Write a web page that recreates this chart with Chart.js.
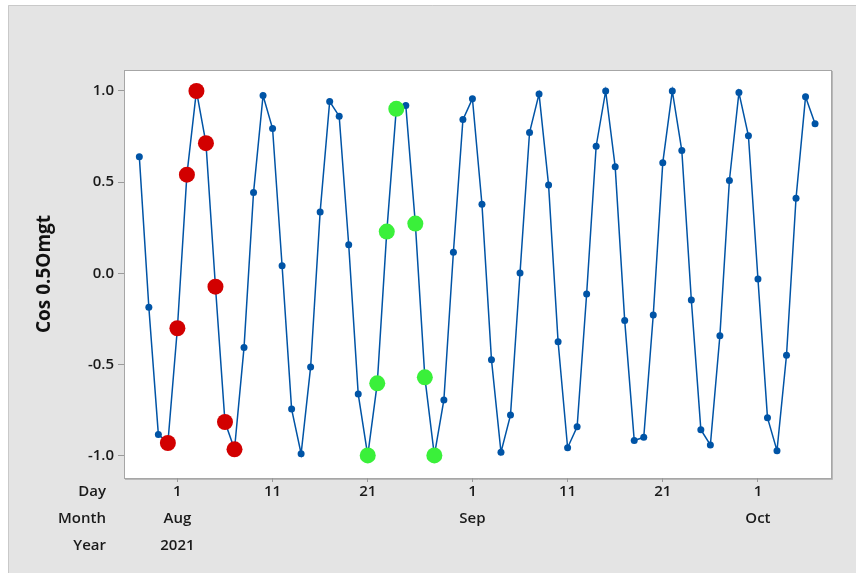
<!DOCTYPE html>
<html>
<head>
<meta charset="utf-8">
<script src="https://cdn.jsdelivr.net/npm/chart.js@4.4.1/dist/chart.umd.min.js"></script>
<style>
  html, body { margin: 0; padding: 0; background: #fff; }
  #wrap { width: 856px; height: 573px; }
</style>
</head>
<body>
<div id="wrap"><canvas id="chart" width="856" height="573"></canvas></div>
<script>
// daily observations, 2021-07-28 .. 2021-10-07 (index 0 = Jul 28)
const cosValues = [
  0.640, -0.186, -0.883, -0.930, -0.301, 0.541, 1.000, 0.714, -0.073, -0.815,
  -0.965, -0.407, 0.443, 0.975, 0.794, 0.042, -0.744, -0.989, -0.513, 0.337,
  0.942, 0.862, 0.157, -0.662, -0.998, -0.603, 0.229, 0.902, 0.920, 0.273,
  -0.570, -0.998, -0.694, 0.116, 0.843, 0.958, 0.379, -0.473, -0.981, -0.777,
  0.002, 0.772, 0.984, 0.485, -0.375, -0.956, -0.841, -0.113, 0.697, 1.000,
  0.584, -0.259, -0.916, -0.899, -0.228, 0.607, 1.000, 0.673, -0.146, -0.857,
  -0.941, -0.342, 0.509, 0.991, 0.754, -0.031, -0.791, -0.972, -0.449, 0.412,
  0.968, 0.820
];

// brushed points
const redIdx = [3, 4, 5, 6, 7, 8, 9, 10];
const greenIdx = [24, 25, 26, 27, 29, 30, 31];

// time stamp ticks
const tickIdx = [4, 14, 24, 35, 45, 55, 65];
const dayLabels = ['1', '11', '21', '1', '11', '21', '1'];
const monthLabels = ['Aug', '', '', 'Sep', '', '', 'Oct'];
const yearLabels = ['2021', '', '', '', '', '', ''];
const stampRows = ['Day', 'Month', 'Year'];

const yTicks = [-1, -0.5, 0, 0.5, 1];

const BLUE = '#0054a6';
const RED = '#d20000';
const GREEN = '#3af03a';
const FONT = "'Open Sans', 'Noto Sans', sans-serif";
const LINE_H = 27;

const linePts = cosValues.map((v, i) => ({ x: i, y: v }));
const redPts = redIdx.map(i => ({ x: i, y: cosValues[i] }));
const greenPts = greenIdx.map(i => ({ x: i, y: cosValues[i] }));

const background = {
  id: 'background',
  beforeDraw(chart) {
    const { ctx, chartArea: a } = chart;
    ctx.save();
    ctx.fillStyle = '#ffffff';
    ctx.fillRect(0, 0, chart.width, chart.height);
    ctx.fillStyle = '#e4e4e4';
    ctx.fillRect(8, 5, chart.width - 8, chart.height - 5);
    ctx.strokeStyle = '#c9c9c9';
    ctx.lineWidth = 1;
    ctx.beginPath();
    ctx.moveTo(8.5, chart.height);
    ctx.lineTo(8.5, 5.5);
    ctx.lineTo(chart.width, 5.5);
    ctx.stroke();
    ctx.fillStyle = '#ffffff';
    ctx.fillRect(a.left, a.top, a.right - a.left, a.bottom - a.top);
    ctx.strokeStyle = '#a6a6a6';
    ctx.strokeRect(a.left + 0.5, a.top + 0.5, a.right - a.left - 1, a.bottom - a.top);
    // slight shadow on right and bottom edges
    ctx.strokeStyle = '#b8b8b8';
    ctx.beginPath();
    ctx.moveTo(a.right + 0.5, a.top + 1);
    ctx.lineTo(a.right + 0.5, a.bottom + 1.5);
    ctx.lineTo(a.left + 1, a.bottom + 1.5);
    ctx.stroke();
    ctx.restore();
  }
};

const stampHeaders = {
  id: 'stampHeaders',
  afterDraw(chart) {
    const { ctx } = chart;
    const x = chart.scales.x;
    const y0 = x.top + 4 - 4 + LINE_H / 2;
    ctx.save();
    ctx.font = '600 15px ' + FONT;
    ctx.fillStyle = '#1a1a1a';
    ctx.textAlign = 'right';
    ctx.textBaseline = 'middle';
    stampRows.forEach((t, i) => ctx.fillText(t, 106, y0 + i * LINE_H));
    ctx.restore();
  }
};

new Chart(document.getElementById('chart'), {
  type: 'line',
  data: {
    datasets: [
      {
        type: 'scatter',
        data: redPts,
        backgroundColor: RED,
        borderColor: RED,
        pointRadius: 8,
        pointBorderWidth: 0,
        order: 0
      },
      {
        type: 'scatter',
        data: greenPts,
        backgroundColor: GREEN,
        borderColor: GREEN,
        pointRadius: 8,
        pointBorderWidth: 0,
        order: 0
      },
      {
        data: linePts,
        borderColor: BLUE,
        borderWidth: 1.5,
        backgroundColor: BLUE,
        pointBackgroundColor: BLUE,
        pointRadius: 3.5,
        pointBorderWidth: 0,
        tension: 0,
        order: 1
      }
    ]
  },
  options: {
    responsive: false,
    animation: false,
    layout: { padding: { left: 0, top: 70, right: 24, bottom: 0 } },
    plugins: {
      legend: { display: false },
      tooltip: { enabled: false }
    },
    scales: {
      x: {
        type: 'linear',
        min: -1.61,
        max: 72.78,
        afterFit: s => { s.height = 95; },
        afterBuildTicks: s => { s.ticks = tickIdx.map(v => ({ value: v })); },
        grid: { drawOnChartArea: false, drawTicks: true, tickLength: 4, color: '#9a9a9a' },
        border: { display: false },
        ticks: {
          autoSkip: false,
          maxRotation: 0,
          padding: -4,
          color: '#1a1a1a',
          font: { family: FONT, size: 15, weight: '600', lineHeight: LINE_H / 15 },
          callback: (v) => {
            const i = tickIdx.indexOf(v);
            return [dayLabels[i], monthLabels[i], yearLabels[i]];
          }
        }
      },
      y: {
        min: -1.122,
        max: 1.115,
        afterFit: s => { s.width = 124; },
        afterBuildTicks: s => { s.ticks = yTicks.map(v => ({ value: v })); },
        grid: { drawOnChartArea: false, drawTicks: true, tickLength: 6, color: '#9a9a9a' },
        border: { display: false },
        ticks: {
          padding: 4,
          color: '#1a1a1a',
          font: { family: FONT, size: 15, weight: '600' },
          callback: v => v.toFixed(1)
        },
        title: {
          display: true,
          text: 'Cos 0.5Omgt',
          color: '#111',
          padding: { top: 33, bottom: 0 },
          font: { family: FONT, size: 19, weight: 'bold' }
        }
      }
    }
  },
  plugins: [background, stampHeaders]
});
</script>
</body>
</html>
